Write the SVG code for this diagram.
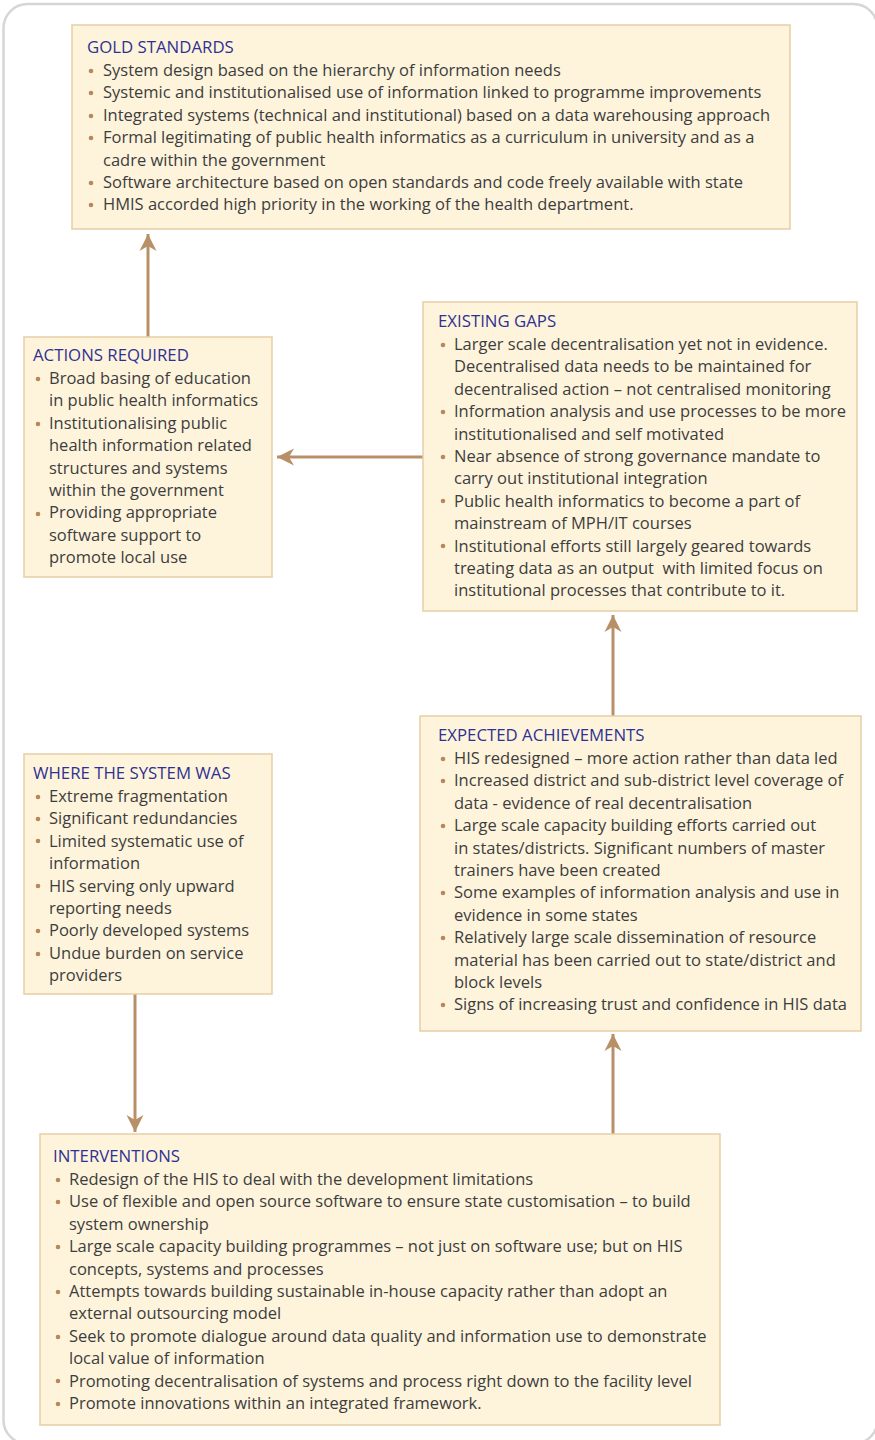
<svg xmlns="http://www.w3.org/2000/svg" width="875" height="1440" viewBox="0 0 875 1440">
<style>
.frame{fill:#fff;stroke:#d6d6d6;stroke-width:2.5}
.box{fill:#fef4dc;stroke:#e6cea6;stroke-width:1.5}
.t{font-family:"Open Sans","Noto Sans","Liberation Sans",sans-serif;font-size:16.5px;fill:#3d3d3d}
.h{fill:#2e3192;font-size:16.8px}
.b{fill:#b5895a}
.c{stroke:#b89068;stroke-width:3;fill:none}
</style>
<defs>
<marker id="ah" markerUnits="userSpaceOnUse" markerWidth="20" markerHeight="20" viewBox="-18 -9 20 18" refX="0" refY="0" orient="auto">
<path d="M0,0 L-17,-8.5 L-12,0 L-17,8.5 Z" fill="#b89068"/>
</marker>
</defs>
<rect class="frame" x="3.5" y="4" width="874" height="1440" rx="24"/>
<g id="connectors">
<line class="c" x1="148" y1="337" x2="148" y2="234" marker-end="url(#ah)"/>
<line class="c" x1="423" y1="457" x2="277" y2="457" marker-end="url(#ah)"/>
<line class="c" x1="613" y1="716" x2="613" y2="615" marker-end="url(#ah)"/>
<line class="c" x1="135" y1="994" x2="135" y2="1132" marker-end="url(#ah)"/>
<line class="c" x1="613" y1="1134" x2="613" y2="1034" marker-end="url(#ah)"/>
</g>
<g id="gold">
<rect class="box" x="72" y="25" width="718" height="204"/>
<text class="t h" x="87" y="53">GOLD STANDARDS</text>
<g class="b"><circle cx="91" cy="71" r="2.3"/><circle cx="91" cy="93" r="2.3"/><circle cx="91" cy="116" r="2.3"/><circle cx="91" cy="138" r="2.3"/><circle cx="91" cy="183" r="2.3"/><circle cx="91" cy="205" r="2.3"/></g>
<text class="t" x="103" y="76">System design based on the hierarchy of information needs<tspan x="103" dy="22.4">Systemic and institutionalised use of information linked to programme improvements</tspan><tspan x="103" dy="22.4">Integrated systems (technical and institutional) based on a data warehousing approach</tspan><tspan x="103" dy="22.4">Formal legitimating of public health informatics as a curriculum in university and as a</tspan><tspan x="103" dy="22.4">cadre within the government</tspan><tspan x="103" dy="22.4">Software architecture based on open standards and code freely available with state</tspan><tspan x="103" dy="22.4">HMIS accorded high priority in the working of the health department.</tspan></text>
</g>
<g id="actions">
<rect class="box" x="24" y="337" width="248" height="240"/>
<text class="t h" x="33" y="361">ACTIONS REQUIRED</text>
<g class="b"><circle cx="38" cy="379" r="2.3"/><circle cx="38" cy="424" r="2.3"/><circle cx="38" cy="514" r="2.3"/></g>
<text class="t" x="49" y="384">Broad basing of education<tspan x="49" dy="22.4">in public health informatics</tspan><tspan x="49" dy="22.4">Institutionalising public</tspan><tspan x="49" dy="22.4">health information related</tspan><tspan x="49" dy="22.4">structures and systems</tspan><tspan x="49" dy="22.4">within the government</tspan><tspan x="49" dy="22.4">Providing appropriate</tspan><tspan x="49" dy="22.4">software support to</tspan><tspan x="49" dy="22.4">promote local use</tspan></text>
</g>
<g id="gaps">
<rect class="box" x="423" y="302" width="434" height="309"/>
<text class="t h" x="438" y="327">EXISTING GAPS</text>
<g class="b"><circle cx="443" cy="345" r="2.3"/><circle cx="443" cy="412" r="2.3"/><circle cx="443" cy="457" r="2.3"/><circle cx="443" cy="501" r="2.3"/><circle cx="443" cy="546" r="2.3"/></g>
<text class="t" x="454" y="350">Larger scale decentralisation yet not in evidence.<tspan x="454" dy="22.4">Decentralised data needs to be maintained for</tspan><tspan x="454" dy="22.4">decentralised action – not centralised monitoring</tspan><tspan x="454" dy="22.4">Information analysis and use processes to be more</tspan><tspan x="454" dy="22.4">institutionalised and self motivated</tspan><tspan x="454" dy="22.4">Near absence of strong governance mandate to</tspan><tspan x="454" dy="22.4">carry out institutional integration</tspan><tspan x="454" dy="22.4">Public health informatics to become a part of</tspan><tspan x="454" dy="22.4">mainstream of MPH/IT courses</tspan><tspan x="454" dy="22.4">Institutional efforts still largely geared towards</tspan><tspan x="454" dy="22.4" xml:space="preserve">treating data as an output  with limited focus on</tspan><tspan x="454" dy="22.4">institutional processes that contribute to it.</tspan></text>
</g>
<g id="expected">
<rect class="box" x="420" y="716" width="441" height="315"/>
<text class="t h" x="438" y="741">EXPECTED ACHIEVEMENTS</text>
<g class="b"><circle cx="443" cy="759" r="2.3"/><circle cx="443" cy="781" r="2.3"/><circle cx="443" cy="826" r="2.3"/><circle cx="443" cy="893" r="2.3"/><circle cx="443" cy="938" r="2.3"/><circle cx="443" cy="1005" r="2.3"/></g>
<text class="t" x="454" y="764">HIS redesigned – more action rather than data led<tspan x="454" dy="22.4">Increased district and sub-district level coverage of</tspan><tspan x="454" dy="22.4">data - evidence of real decentralisation</tspan><tspan x="454" dy="22.4">Large scale capacity building efforts carried out</tspan><tspan x="454" dy="22.4">in states/districts. Significant numbers of master</tspan><tspan x="454" dy="22.4">trainers have been created</tspan><tspan x="454" dy="22.4">Some examples of information analysis and use in</tspan><tspan x="454" dy="22.4">evidence in some states</tspan><tspan x="454" dy="22.4">Relatively large scale dissemination of resource</tspan><tspan x="454" dy="22.4">material has been carried out to state/district and</tspan><tspan x="454" dy="22.4">block levels</tspan><tspan x="454" dy="22.4">Signs of increasing trust and confidence in HIS data</tspan></text>
</g>
<g id="where">
<rect class="box" x="24" y="754" width="248" height="240"/>
<text class="t h" x="33" y="779">WHERE THE SYSTEM WAS</text>
<g class="b"><circle cx="38" cy="797" r="2.3"/><circle cx="38" cy="819" r="2.3"/><circle cx="38" cy="841" r="2.3"/><circle cx="38" cy="886" r="2.3"/><circle cx="38" cy="931" r="2.3"/><circle cx="38" cy="954" r="2.3"/></g>
<text class="t" x="49" y="802">Extreme fragmentation<tspan x="49" dy="22.4">Significant redundancies</tspan><tspan x="49" dy="22.4">Limited systematic use of</tspan><tspan x="49" dy="22.4">information</tspan><tspan x="49" dy="22.4">HIS serving only upward</tspan><tspan x="49" dy="22.4">reporting needs</tspan><tspan x="49" dy="22.4">Poorly developed systems</tspan><tspan x="49" dy="22.4">Undue burden on service</tspan><tspan x="49" dy="22.4">providers</tspan></text>
</g>
<g id="interventions">
<rect class="box" x="40" y="1134" width="680" height="291"/>
<text class="t h" x="53" y="1162">INTERVENTIONS</text>
<g class="b"><circle cx="58" cy="1180" r="2.3"/><circle cx="58" cy="1202" r="2.3"/><circle cx="58" cy="1247" r="2.3"/><circle cx="58" cy="1292" r="2.3"/><circle cx="58" cy="1337" r="2.3"/><circle cx="58" cy="1381" r="2.3"/><circle cx="58" cy="1404" r="2.3"/></g>
<text class="t" x="69" y="1185">Redesign of the HIS to deal with the development limitations<tspan x="69" dy="22.4">Use of flexible and open source software to ensure state customisation – to build</tspan><tspan x="69" dy="22.4">system ownership</tspan><tspan x="69" dy="22.4">Large scale capacity building programmes – not just on software use; but on HIS</tspan><tspan x="69" dy="22.4">concepts, systems and processes</tspan><tspan x="69" dy="22.4">Attempts towards building sustainable in-house capacity rather than adopt an</tspan><tspan x="69" dy="22.4">external outsourcing model</tspan><tspan x="69" dy="22.4">Seek to promote dialogue around data quality and information use to demonstrate</tspan><tspan x="69" dy="22.4">local value of information</tspan><tspan x="69" dy="22.4">Promoting decentralisation of systems and process right down to the facility level</tspan><tspan x="69" dy="22.4">Promote innovations within an integrated framework.</tspan></text>
</g>
</svg>
